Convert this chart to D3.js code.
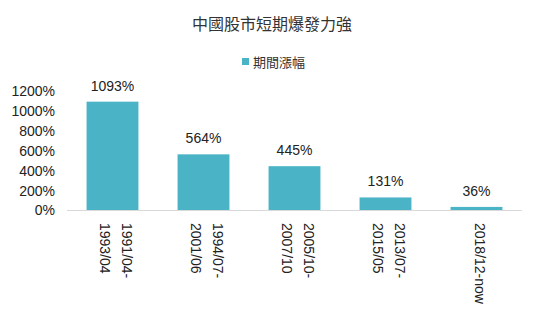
<!DOCTYPE html>
<html>
<head>
<meta charset="utf-8">
<script src="https://cdn.jsdelivr.net/npm/d3@7"></script>
<style>
  html, body { margin: 0; padding: 0; background: #fff; }
  svg { display: block; }
  text { font-family: "Liberation Sans", Arial, sans-serif; fill: #222; }
  .cjk { font-family: "Noto Sans CJK TC", "Noto Sans CJK SC", sans-serif; }
</style>
</head>
<body>
<div id="chart"></div>
<script>
// Chinese stock market: rally periods and their gains
const periods = [['1991/04-', '1993/04'], ['1994/07-', '2001/06'], ['2005/10-', '2007/10'], ['2013/07-', '2015/05'], ['2018/12-now']];
const gains = [1093, 564, 445, 131, 36];
const yTicks = [0, 200, 400, 600, 800, 1000, 1200];
const seriesName = '期間漲幅';
const title = '中國股市短期爆發力強';

const width = 545, height = 326;
const barColor = '#4bb3c6';

const svg = d3.select('#chart').append('svg')
  .attr('width', width)
  .attr('height', height);

const x = d3.scaleBand()
  .domain(d3.range(gains.length))
  .range([67, 522])
  .paddingInner(0.43)
  .paddingOuter(0.215);

const y = d3.scaleLinear()
  .domain([0, 1200])
  .range([210.5, 91]);

svg.append('text')
  .attr('class', 'cjk')
  .attr('x', 272)
  .attr('y', 30)
  .attr('text-anchor', 'middle')
  .style('font-size', '16px')
  .style('fill', '#333')
  .text(title);

// legend
svg.append('rect')
  .attr('x', 242).attr('y', 58)
  .attr('width', 7).attr('height', 7)
  .attr('fill', barColor);
svg.append('text')
  .attr('class', 'cjk')
  .attr('x', 253)
  .attr('y', 67)
  .style('font-size', '13px')
  .style('fill', '#333')
  .text(seriesName);

// y axis labels (no line, no ticks)
const yAxis = svg.append('g')
  .attr('transform', 'translate(55,0)')
  .call(d3.axisLeft(y).tickValues(yTicks).tickSize(0).tickPadding(0).tickFormat(d => d + '%'));
yAxis.select('.domain').remove();
yAxis.selectAll('text')
  .style('font-family', '"Liberation Sans", Arial, sans-serif')
  .style('font-size', '14px')
  .attr('fill', '#222');

// bars
svg.append('g').selectAll('rect')
  .data(gains)
  .join('rect')
  .attr('x', (d, i) => x(i))
  .attr('width', x.bandwidth())
  .attr('y', d => y(d))
  .attr('height', d => y(0) - y(d))
  .attr('fill', barColor);

// value labels
svg.append('g').selectAll('text')
  .data(gains)
  .join('text')
  .attr('x', (d, i) => x(i) + x.bandwidth() / 2)
  .attr('y', d => y(d) - 11)
  .attr('text-anchor', 'middle')
  .style('font-size', '14px')
  .text(d => d + '%');

// baseline
svg.append('line')
  .attr('x1', 67).attr('x2', 522)
  .attr('y1', y(0)).attr('y2', y(0))
  .attr('stroke', '#d9d9d9')
  .attr('stroke-width', 1);

// rotated category labels
const lineGap = 22;
periods.forEach((lines, i) => {
  const cx = x(i) + x.bandwidth() / 2;
  lines.forEach((t, j) => {
    const offset = (lines.length - 1) / 2 * lineGap - j * lineGap;
    const tx = cx + offset;
    svg.append('text')
      .attr('transform', `translate(${tx - 2},223) rotate(90)`)
      .attr('text-anchor', 'start')
      .style('font-size', '14px')
      .text(t);
  });
});
</script>
</body>
</html>
